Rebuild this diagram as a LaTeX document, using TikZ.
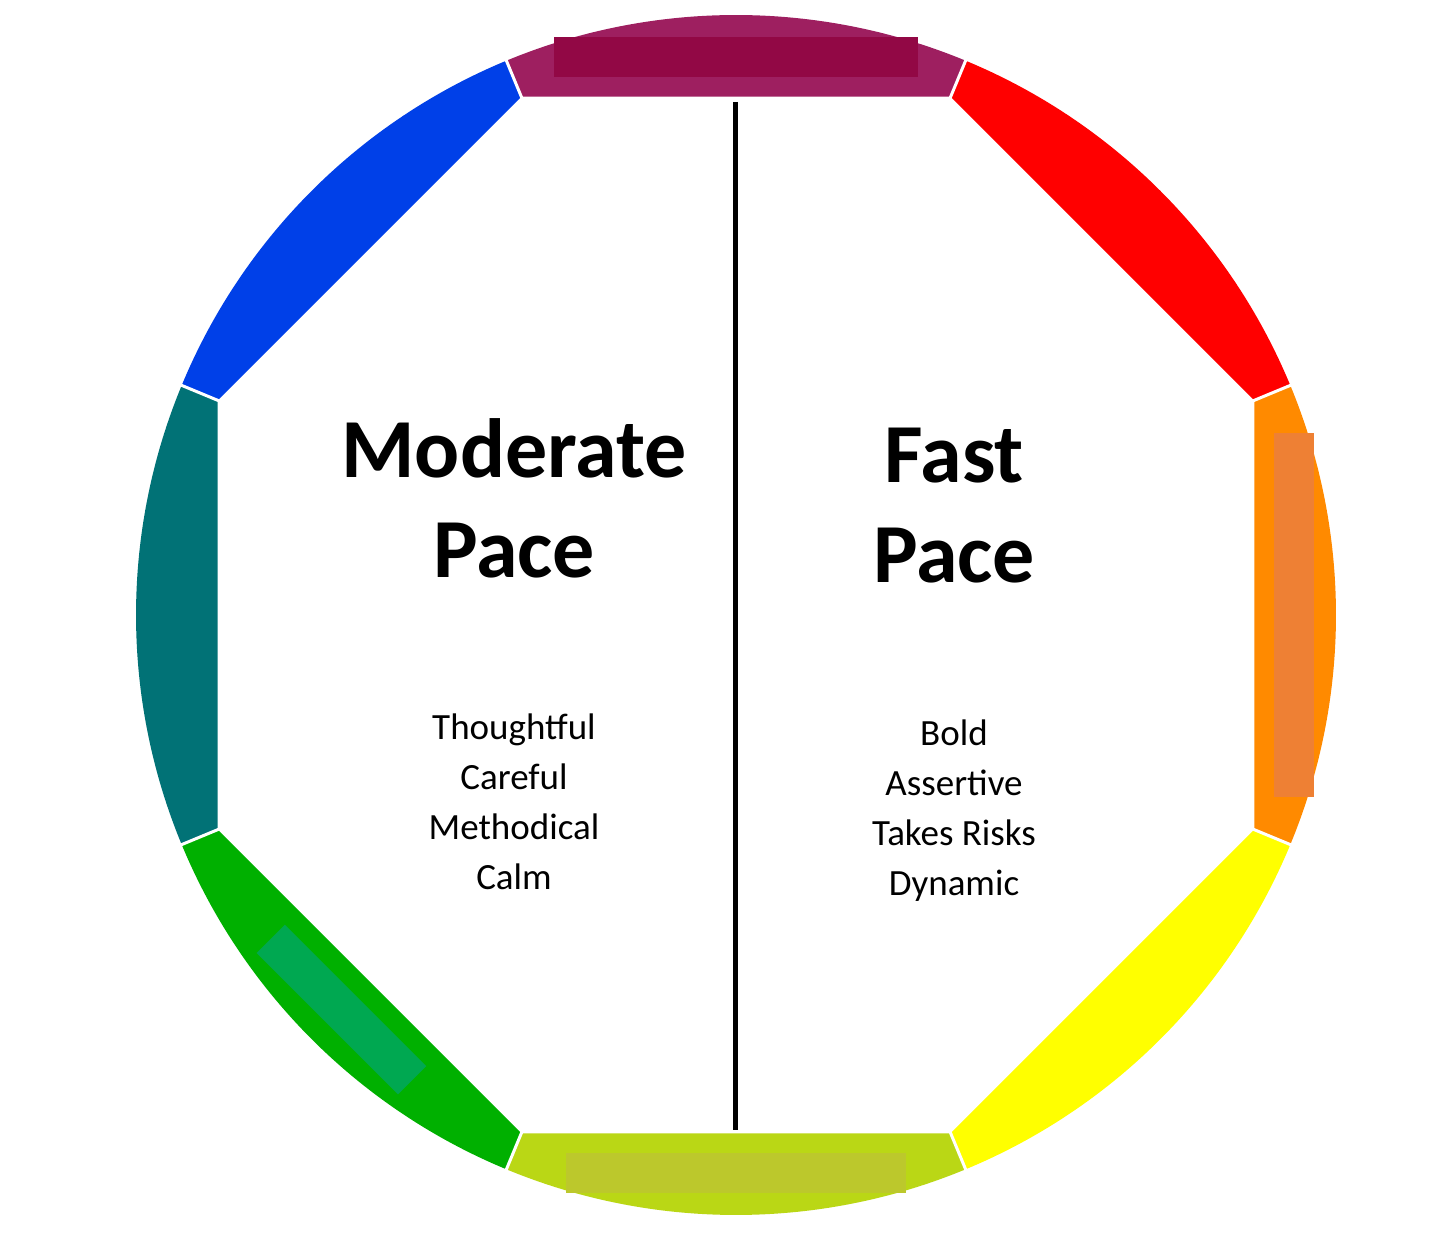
\documentclass[tikz,border=0pt]{standalone}
\usepackage{fontspec}
\setmainfont{Carlito}
\begin{document}
\begin{tikzpicture}[x=1pt,y=1pt,
  big/.style={font=\fontsize{84}{100}\selectfont\bfseries,align=center},
  small/.style={font=\fontsize{37}{50}\selectfont,align=center}]
\useasboundingbox (0,0) rectangle (1444,1248);
\fill[white] (0,0) rectangle (1444,1248);
\coordinate (c) at (736,633);
\definecolor{cpur}{HTML}{9E1F60}\definecolor{cpurb}{HTML}{920845}
\definecolor{cred}{HTML}{FF0000}
\definecolor{cora}{HTML}{FF8A00}\definecolor{corab}{HTML}{EE8034}
\definecolor{cyel}{HTML}{FFFF00}
\definecolor{cyg}{HTML}{BAD715}\definecolor{cygb}{HTML}{BCC82C}
\definecolor{cgrn}{HTML}{00B000}\definecolor{cgrnb}{HTML}{00A851}
\definecolor{cteal}{HTML}{017276}
\definecolor{cblu}{HTML}{0040E8}
\foreach \a/\col in {90/cpur,45/cred,0/cora,-45/cyel,-90/cyg,-135/cgrn,180/cteal,135/cblu}{
  \fill[\col] ([shift={(\a-22.5:600)}]c) arc[start angle=\a-22.5,end angle=\a+22.5,radius=600]
    -- ([shift={(\a+22.5:561)}]c) -- ([shift={(\a-22.5:561)}]c) -- cycle;
}
% inner bars
\foreach \a/\col/\hl in {90/cpurb/182,0/corab/182,-90/cygb/170,-135/cgrnb/100}{
  \begin{scope}[shift={(c)},rotate=\a-90]
    \fill[\col] (-\hl,538) rectangle (\hl,578);
  \end{scope}
}
\foreach \a in {22.5,67.5,...,360}{
  \draw[white,line width=3] ([shift={(\a:556)}]c) -- ([shift={(\a:604)}]c);
}
\coordinate (lt) at (735,1146);
\coordinate (lb) at (735,118);
\draw[black,line width=5] (lt) -- (lb);
\node[big,anchor=base] (m1) at (514,770) {Moderate};
\node[big,anchor=base] (m2) at (514,670) {Pace};
\node[big,anchor=base] (f1) at (954,765) {Fast};
\node[big,anchor=base] (f2) at (954,665) {Pace};
\node[small,anchor=base] (t1) at (514,508) {Thoughtful};
\node[small,anchor=base] (t2) at (514,458) {Careful};
\node[small,anchor=base] (t3) at (514,408) {Methodical};
\node[small,anchor=base] (t4) at (514,358) {Calm};
\node[small,anchor=base] (b1) at (954,502) {Bold};
\node[small,anchor=base] (b2) at (954,452) {Assertive};
\node[small,anchor=base] (b3) at (954,402) {Takes Risks};
\node[small,anchor=base] (b4) at (954,352) {Dynamic};
\end{tikzpicture}
\end{document}
